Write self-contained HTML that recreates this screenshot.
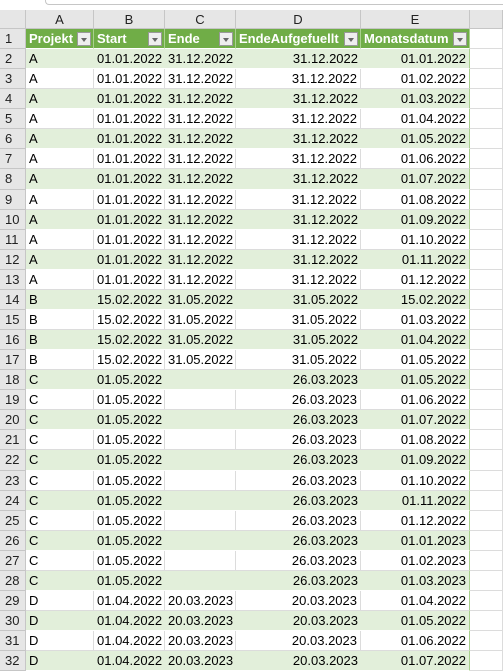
<!DOCTYPE html>
<html><head><meta charset="utf-8"><style>
body{margin:0;width:503px;height:665px;overflow:hidden;background:#fff;font-family:"Liberation Sans",sans-serif;position:relative}
.c{position:absolute;box-sizing:border-box;font-size:13px;line-height:20px;white-space:nowrap;overflow:hidden;color:#000;padding:0 3px}
.hd{background:#e6e6e6;color:#222;text-align:center;border-right:1px solid #c6c6c6;border-bottom:1px solid #c6c6c6}
.g{border-right:1px solid #dcdcdc;border-bottom:1px solid #dcdcdc}
.th{background:#70ad47;color:#fff;font-weight:bold;border-right:1px solid #a9d08e;border-bottom:1px solid #fff}
.band{background:#e2efda;border-right:none;border-bottom:1px solid #fff}
.r{text-align:right}
.dd{position:absolute;right:2px;top:3px;width:14px;height:14px;background:#eee;border:1px solid #999;box-sizing:border-box}
.dd:after{content:"";position:absolute;left:3px;top:5px;border-left:3px solid transparent;border-right:3px solid transparent;border-top:4px solid #666}
</style></head><body>
<div style="position:absolute;left:45px;top:0;width:458px;height:4px;border-bottom:1px solid #c6c6c6;border-left:1px solid #c6c6c6;border-bottom-left-radius:4px"></div>
<div id="sheet"></div>
<script>
const projekt=["A","A","A","A","A","A","A","A","A","A","A","A","B","B","B","B","C","C","C","C","C","C","C","C","C","C","C","D","D","D","D"];
const start=["01.01.2022","01.01.2022","01.01.2022","01.01.2022","01.01.2022","01.01.2022","01.01.2022","01.01.2022","01.01.2022","01.01.2022","01.01.2022","01.01.2022","15.02.2022","15.02.2022","15.02.2022","15.02.2022","01.05.2022","01.05.2022","01.05.2022","01.05.2022","01.05.2022","01.05.2022","01.05.2022","01.05.2022","01.05.2022","01.05.2022","01.05.2022","01.04.2022","01.04.2022","01.04.2022","01.04.2022"];
const ende=["31.12.2022","31.12.2022","31.12.2022","31.12.2022","31.12.2022","31.12.2022","31.12.2022","31.12.2022","31.12.2022","31.12.2022","31.12.2022","31.12.2022","31.05.2022","31.05.2022","31.05.2022","31.05.2022","","","","","","","","","","","","20.03.2023","20.03.2023","20.03.2023","20.03.2023"];
const endeAuf=["31.12.2022","31.12.2022","31.12.2022","31.12.2022","31.12.2022","31.12.2022","31.12.2022","31.12.2022","31.12.2022","31.12.2022","31.12.2022","31.12.2022","31.05.2022","31.05.2022","31.05.2022","31.05.2022","26.03.2023","26.03.2023","26.03.2023","26.03.2023","26.03.2023","26.03.2023","26.03.2023","26.03.2023","26.03.2023","26.03.2023","26.03.2023","20.03.2023","20.03.2023","20.03.2023","20.03.2023"];
const monat=["01.01.2022","01.02.2022","01.03.2022","01.04.2022","01.05.2022","01.06.2022","01.07.2022","01.08.2022","01.09.2022","01.10.2022","01.11.2022","01.12.2022","15.02.2022","01.03.2022","01.04.2022","01.05.2022","01.05.2022","01.06.2022","01.07.2022","01.08.2022","01.09.2022","01.10.2022","01.11.2022","01.12.2022","01.01.2023","01.02.2023","01.03.2023","01.04.2022","01.05.2022","01.06.2022","01.07.2022"];
const headers=["Projekt","Start","Ende","EndeAufgefuellt","Monatsdatum"];
const letters=["A","B","C","D","E",""];
const xs=[0,26,94,165,236,361,470,503];
const top0=10, rowTop=29, rh=20.07;
const S=document.getElementById('sheet');
function cell(x,y,w,h,cls,txt){const d=document.createElement('div');d.className='c '+cls;d.style.left=x+'px';d.style.top=y+'px';d.style.width=w+'px';d.style.height=h+'px';d.textContent=txt;S.appendChild(d);return d;}
let corner=cell(0,top0,26,19,'hd','');


for(let i=0;i<6;i++){const d=cell(xs[i+1],top0,xs[i+2]-xs[i+1],19,'hd',letters[i]);

}
const nrows=projekt.length+1;
for(let r=0;r<nrows;r++){
 const y=Math.round(rowTop+r*rh),h=Math.round(rowTop+(r+1)*rh)-y;
 const rn=cell(0,y,26,h,'hd',String(r+1));rn.style.textAlign='left';rn.style.paddingLeft='5px';
 
 
 for(let c=0;c<6;c++){
  const w=xs[c+2]-xs[c+1];let cls='g',txt='';
  if(c<5){
   if(r===0){cls='th';txt=headers[c];}
   else{const i=r-1;txt=[projekt[i],start[i],ende[i],endeAuf[i],monat[i]][c];
     if(c>0)cls+=' r';if(r%2===1)cls+=' band';}
  }
  const d=cell(xs[c+1],y,w,h,cls,txt);
  if(c===4&&r>0){d.style.borderRight='1px solid #a9d08e';}
  if(r===0&&c<5){const b=document.createElement('div');b.className='dd';
   
   
   d.appendChild(b);
   
   }
  else{
   }
 }
}
</script>
</body></html>
